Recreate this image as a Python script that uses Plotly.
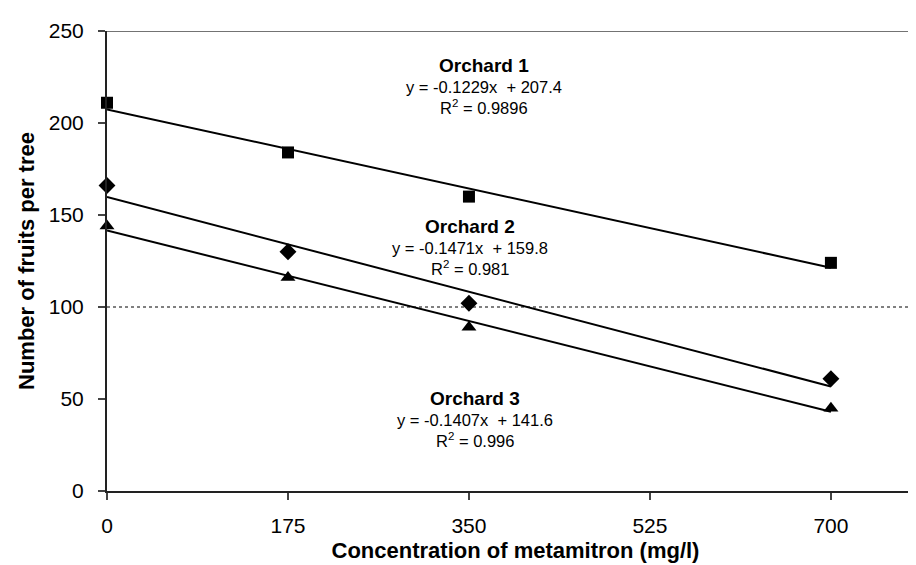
import plotly.graph_objects as go

concentration = [0, 175, 350, 700]
orchard1 = [211, 184, 160, 124]
orchard2 = [166, 130, 102, 61]
orchard3 = [144, 116, 89, 45]
slopes = [-0.1229, -0.1471, -0.1407]
intercepts = [207.4, 159.8, 141.6]
r2_labels = ["0.9896", "0.981", "0.996"]
names = ["Orchard 1", "Orchard 2", "Orchard 3"]
symbols = ["square", "diamond", "triangle-up"]
marker_sizes = [12, 13, 13]
label_x = [365, 351, 356]
label_y = [231.5, 144, 50.5]
reference_level = 100
x_ticks = [0, 175, 350, 525, 700]
y_ticks = [0, 50, 100, 150, 200, 250]

FONT = "Arial, Liberation Sans, sans-serif"
fig = go.Figure()

series = [orchard1, orchard2, orchard3]
for i, ys in enumerate(series):
    xs_fit = [min(concentration), max(concentration)]
    ys_fit = [slopes[i] * x + intercepts[i] for x in xs_fit]
    fig.add_trace(go.Scatter(x=xs_fit, y=ys_fit, mode="lines",
                             line=dict(color="black", width=2), showlegend=False,
                             hoverinfo="skip"))
    fig.add_trace(go.Scatter(x=concentration, y=ys, mode="markers", name=names[i],
                             marker=dict(symbol=symbols[i], size=marker_sizes[i],
                                         color="black"),
                             showlegend=False, cliponaxis=False))

# reference dotted line
fig.add_shape(type="line", xref="paper", x0=0, x1=1, yref="y",
              y0=reference_level, y1=reference_level,
              line=dict(color="black", width=1, dash="dot"))
# top border
fig.add_shape(type="line", xref="paper", x0=0, x1=1, yref="y",
              y0=250, y1=250, line=dict(color="#444", width=1.5))

for i in range(3):
    fig.add_annotation(x=label_x[i], y=label_y[i], text="<b>%s</b>" % names[i],
                       showarrow=False, font=dict(family=FONT, size=19, color="black"))
    eq = "y = %.4fx  + %.1f" % (slopes[i], intercepts[i])
    fig.add_annotation(x=label_x[i], y=label_y[i] - 11.8, text=eq,
                       showarrow=False, font=dict(family=FONT, size=16.5, color="black"))
    fig.add_annotation(x=label_x[i], y=label_y[i] - 22.8,
                       text="R<sup>2</sup> = %s" % r2_labels[i],
                       showarrow=False, font=dict(family=FONT, size=16.5, color="black"))

fig.update_layout(
    width=916, height=565,
    margin=dict(l=99, r=0, t=23, b=82),
    plot_bgcolor="white", paper_bgcolor="white",
    font=dict(family=FONT, color="black"),
    xaxis=dict(range=[0, 790], tickvals=x_ticks, ticks="outside", ticklen=7,
               tickcolor="#444", tickwidth=1.5, showgrid=False, zeroline=False,
               showline=True, linecolor="#222", linewidth=2,
               tickfont=dict(size=21, family=FONT), ticklabelstandoff=8,
               title=dict(text="<b>Concentration of metamitron (mg/l)</b>",
                          font=dict(size=22, family=FONT), standoff=6)),
    yaxis=dict(range=[0, 250], tickvals=y_ticks, ticks="outside", ticklen=7,
               tickcolor="#444", tickwidth=1.5, showgrid=False, zeroline=False,
               showline=True, linecolor="#222", linewidth=2,
               tickfont=dict(size=21, family=FONT), ticklabelstandoff=10,
               title=dict(text="<b>Number of fruits per tree</b>",
                          font=dict(size=22, family=FONT), standoff=8)),
)

fig.write_html("out.html")
